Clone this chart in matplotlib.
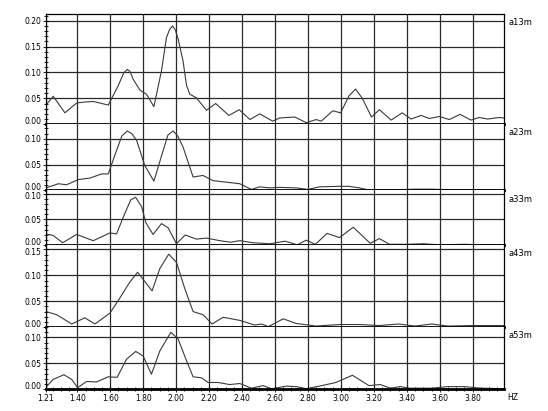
import matplotlib
matplotlib.use("Agg")
import matplotlib.pyplot as plt
from matplotlib.ticker import MultipleLocator, FormatStrFormatter
from matplotlib.transforms import ScaledTranslation

# spectra, one list of frequencies + one of amplitudes per channel
freq_a13m = [1.21, 1.254, 1.325, 1.396, 1.45, 1.497, 1.588, 1.648, 1.68, 1.703, 1.72, 1.739,
             1.780, 1.820, 1.865, 1.911, 1.941, 1.96, 1.978, 1.995, 2.012, 2.042, 2.063, 2.083,
             2.123, 2.184, 2.24, 2.32, 2.383, 2.448, 2.507, 2.586, 2.628, 2.719, 2.79, 2.85,
             2.881, 2.951, 2.998, 3.05, 3.089, 3.13, 3.186, 3.234, 3.305, 3.372, 3.426, 3.487,
             3.537, 3.598, 3.658, 3.723, 3.790, 3.840, 3.891, 3.961, 3.99]
amp_a13m = [0.037, 0.054, 0.022, 0.041, 0.043, 0.044, 0.037, 0.074, 0.098, 0.106, 0.102, 0.087,
            0.066, 0.058, 0.034, 0.103, 0.167, 0.183, 0.190, 0.182, 0.165, 0.122, 0.075, 0.058,
            0.051, 0.027, 0.040, 0.017, 0.028, 0.009, 0.020, 0.006, 0.012, 0.014, 0.003, 0.009,
            0.006, 0.026, 0.022, 0.055, 0.068, 0.050, 0.014, 0.028, 0.008, 0.022, 0.010, 0.017,
            0.011, 0.015, 0.009, 0.019, 0.008, 0.013, 0.010, 0.013, 0.012]

freq_a23m = [1.21, 1.285, 1.335, 1.406, 1.477, 1.548, 1.588, 1.638, 1.67, 1.703, 1.730, 1.760,
             1.81, 1.865, 1.921, 1.95, 1.982, 2.01, 2.042, 2.103, 2.163, 2.224, 2.305, 2.386,
             2.457, 2.507, 2.568, 2.628, 2.729, 2.80, 2.87, 2.99, 3.05, 3.11, 3.17, 3.30,
             3.45, 3.55, 3.70, 3.99]
amp_a23m = [0.005, 0.013, 0.011, 0.021, 0.024, 0.032, 0.032, 0.077, 0.105, 0.115, 0.110, 0.097,
            0.048, 0.018, 0.077, 0.107, 0.115, 0.105, 0.084, 0.026, 0.029, 0.019, 0.016, 0.013,
            0.002, 0.007, 0.005, 0.006, 0.005, 0.002, 0.007, 0.008, 0.008, 0.005, 0.001, 0.001,
            0.0025, 0.0025, 0.001, 0.001]

freq_a33m = [1.21, 1.254, 1.311, 1.396, 1.497, 1.598, 1.638, 1.689, 1.725, 1.754, 1.79, 1.816,
             1.86, 1.911, 1.951, 2.002, 2.055, 2.123, 2.184, 2.265, 2.33, 2.386, 2.466, 2.568,
             2.662, 2.735, 2.79, 2.845, 2.916, 2.992, 3.075, 3.178, 3.234, 3.295, 3.40, 3.50,
             3.60, 3.75, 3.85, 3.99]
amp_a33m = [0.022, 0.019, 0.005, 0.021, 0.009, 0.024, 0.022, 0.062, 0.088, 0.093, 0.075, 0.044,
            0.021, 0.042, 0.034, 0.003, 0.020, 0.012, 0.014, 0.009, 0.006, 0.009, 0.005, 0.003,
            0.008, 0.001, 0.010, 0.002, 0.023, 0.015, 0.035, 0.004, 0.013, 0.002, 0.002, 0.003,
            0.001, 0.002, 0.001, 0.001]

freq_a43m = [1.21, 1.275, 1.366, 1.446, 1.507, 1.598, 1.658, 1.719, 1.766, 1.82, 1.854, 1.901,
             1.955, 2.002, 2.052, 2.103, 2.163, 2.218, 2.285, 2.386, 2.477, 2.517, 2.56, 2.65,
             2.729, 2.85, 2.992, 3.113, 3.234, 3.35, 3.45, 3.55, 3.65, 3.80, 3.99]
amp_a43m = [0.030, 0.024, 0.006, 0.018, 0.006, 0.027, 0.056, 0.087, 0.106, 0.084, 0.070, 0.113,
            0.141, 0.125, 0.075, 0.030, 0.024, 0.006, 0.019, 0.013, 0.004, 0.006, 0.001, 0.016,
            0.007, 0.002, 0.005, 0.005, 0.003, 0.006, 0.002, 0.006, 0.002, 0.003, 0.003]

freq_a53m = [1.21, 1.254, 1.319, 1.366, 1.402, 1.457, 1.517, 1.588, 1.642, 1.699, 1.755, 1.8,
             1.85, 1.901, 1.968, 2.012, 2.063, 2.103, 2.154, 2.194, 2.255, 2.325, 2.386, 2.457,
             2.527, 2.58, 2.67, 2.73, 2.79, 2.87, 2.97, 3.07, 3.17, 3.24, 3.30, 3.36,
             3.42, 3.55, 3.65, 3.75, 3.85, 3.99]
amp_a53m = [0.004, 0.019, 0.028, 0.019, 0.003, 0.015, 0.014, 0.024, 0.023, 0.058, 0.073, 0.064,
            0.029, 0.074, 0.110, 0.097, 0.055, 0.024, 0.022, 0.013, 0.013, 0.009, 0.011, 0.002,
            0.007, 0.001, 0.006, 0.005, 0.001, 0.006, 0.013, 0.027, 0.007, 0.009, 0.002, 0.005,
            0.002, 0.002, 0.005, 0.005, 0.002, 0.001]

channel_names = ["a13m", "a23m", "a33m", "a43m", "a53m"]
freqs = [freq_a13m, freq_a23m, freq_a33m, freq_a43m, freq_a53m]
amps = [amp_a13m, amp_a23m, amp_a33m, amp_a43m, amp_a53m]
x_ticks = [1.21, 1.40, 1.60, 1.80, 2.00, 2.20, 2.40, 2.60, 2.80, 3.00, 3.20, 3.40, 3.60, 3.80]


def shift_label(fig, label, dy_px):
    label.set_transform(label.get_transform() +
                        ScaledTranslation(0, dy_px / fig.dpi, fig.dpi_scale_trans))


def plot_stack():
    plt.rcParams["font.family"] = "DejaVu Sans"
    fs = 5.5
    y_tops = [0.213, 0.128, 0.106, 0.158, 0.120]
    fig = plt.figure(figsize=(5.48, 4.11), dpi=100)
    gs = fig.add_gridspec(5, 1, height_ratios=y_tops, hspace=0,
                          left=0.0839, right=0.9197, top=0.966, bottom=0.053)
    grid_col = "#2a2a2a"
    axes = []
    for k, (f, a, name) in enumerate(zip(freqs, amps, channel_names)):
        ax = fig.add_subplot(gs[k])
        axes.append(ax)
        ax.plot(f, a, color="#3a3a3a", lw=0.8)
        ax.set_xlim(1.21, 3.99)
        ax.set_ylim(0, y_tops[k])
        ax.yaxis.set_major_locator(MultipleLocator(0.05))
        ax.yaxis.set_minor_locator(MultipleLocator(0.01))
        ax.yaxis.set_major_formatter(FormatStrFormatter("%.2f"))
        ax.set_xticks(x_ticks)
        ax.xaxis.set_minor_locator(MultipleLocator(0.05))
        ax.grid(True, which="major", color=grid_col, lw=0.9)
        ax.tick_params(axis="y", which="both", direction="inout", labelsize=fs, pad=1,
                       width=0.6, color="black")
        ax.tick_params(axis="y", which="major", length=4)
        ax.tick_params(axis="y", which="minor", length=3)
        ax.spines["bottom"].set_linewidth(2.0)
        ax.spines["left"].set_linewidth(0.9)
        ax.spines["right"].set_linewidth(0.9)
        ax.spines["top"].set_linewidth(0.9 if k == 0 else 0)
        if k < 4:
            ax.tick_params(axis="x", which="both", length=0, labelbottom=False)
        else:
            ax.set_xticklabels(["%.2f" % t for t in x_ticks])
            ax.tick_params(axis="x", which="both", direction="inout", labelsize=fs, pad=1.5,
                           width=0.6)
            ax.tick_params(axis="x", which="major", length=4)
            ax.tick_params(axis="x", which="minor", length=3)
            ax.annotate("HZ", xy=(1, 0), xycoords="axes fraction", xytext=(2, -3),
                        textcoords="offset points", ha="left", va="top", fontsize=fs)
        ax.annotate(name, xy=(1, 1), xycoords="axes fraction", xytext=(3, -3),
                    textcoords="offset points", ha="left", va="top", fontsize=fs + 0.5)

    # 0.00 labels sit just above the zero line, top labels squeezed under the panel edge
    fig.canvas.draw()
    for k, ax in enumerate(axes):
        ymax = ax.get_ylim()[1]
        shown = [t for t in ax.yaxis.get_major_ticks() if -1e-9 <= t.get_loc() <= ymax + 1e-9]
        zero = [t for t in shown if abs(t.get_loc()) < 1e-9][0]
        shift_label(fig, zero.label1, 4)
        if k in (2, 3):
            shift_label(fig, shown[-1].label1, -2)
    fig.savefig("out.png", dpi=100)


if __name__ == "__main__":
    plot_stack()
